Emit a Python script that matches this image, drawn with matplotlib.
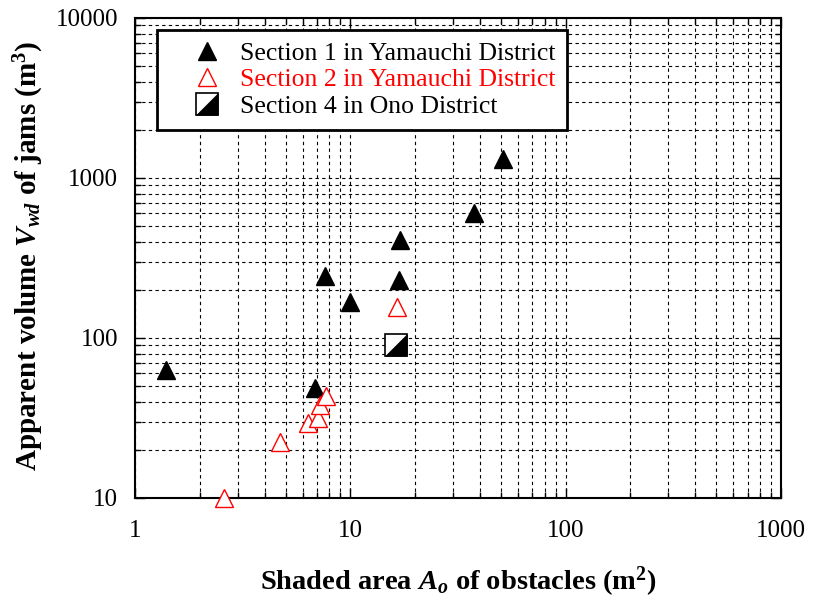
import matplotlib
matplotlib.use("Agg")
import matplotlib.pyplot as plt
from matplotlib.ticker import LogLocator, FixedLocator, FixedFormatter, NullFormatter
from matplotlib.legend_handler import HandlerTuple

plt.rcParams['font.family'] = ['Liberation Serif', 'DejaVu Serif']
plt.rcParams['mathtext.fontset'] = 'custom'
plt.rcParams['mathtext.rm'] = 'Liberation Serif:bold'
plt.rcParams['mathtext.bf'] = 'Liberation Serif:bold'
plt.rcParams['mathtext.it'] = 'Liberation Serif:bold:italic'

# Data
s1_x = [1.39, 6.86, 7.63, 9.97, 17.0, 16.8, 37.5, 51.2]
s1_y = [63, 48.7, 244, 168, 410, 230, 603, 1316]
s2_x = [2.59, 4.71, 6.36, 7.08, 7.2, 7.7, 16.5]
s2_y = [10, 22.4, 29.4, 31.6, 38.1, 43.4, 156]
s4_x = [16.3]
s4_y = [90.4]
labels = ["Section 1 in Yamauchi District",
          "Section 2 in Yamauchi District",
          "Section 4 in Ono District"]
xticks = [1, 10, 100, 1000]
yticks = [10, 100, 1000, 10000]

fig = plt.figure(figsize=(8.16, 6.0), dpi=100)
ax = fig.add_axes([135/816, 1 - 498/600, 646/816, 480/600])
ax.set_xscale('log')
ax.set_yscale('log')
ax.set_xlim(1, 1000)
ax.set_ylim(10, 10000)

ax.grid(True, which='both', color='black', linestyle=(0, (3, 3)), linewidth=0.8)
ax.set_axisbelow(True)

ms = 13
h1, = ax.plot(s1_x, s1_y, linestyle='none', marker='^', markersize=ms,
              markerfacecolor='black', markeredgecolor='black', zorder=3, clip_on=False)
h2, = ax.plot(s2_x, s2_y, linestyle='none', marker='^', markersize=ms,
              markerfacecolor='white', markeredgecolor='red', markeredgewidth=1.0,
              zorder=3, clip_on=False)
h3a, = ax.plot(s4_x, s4_y, linestyle='none', marker='s', markersize=15.5,
               markerfacecolor='white', markeredgecolor='black', markeredgewidth=1.2,
               zorder=3, clip_on=False)
tri = [(-1, -1), (1, -1), (1, 1), (-1, -1)]
h3b, = ax.plot(s4_x, s4_y, linestyle='none', marker=tri, markersize=15.5,
               markerfacecolor='black', markeredgecolor='black', markeredgewidth=0.5,
               zorder=4, clip_on=False)

ax.xaxis.set_major_locator(FixedLocator(xticks))
ax.xaxis.set_major_formatter(FixedFormatter([str(v) for v in xticks]))
ax.yaxis.set_major_locator(FixedLocator(yticks))
ax.yaxis.set_major_formatter(FixedFormatter([str(v) for v in yticks]))
ax.xaxis.set_minor_locator(LogLocator(base=10, subs=range(2, 10)))
ax.yaxis.set_minor_locator(LogLocator(base=10, subs=range(2, 10)))
ax.xaxis.set_minor_formatter(NullFormatter())
ax.yaxis.set_minor_formatter(NullFormatter())

ax.tick_params(which='both', direction='in', top=True, right=True, labelsize=18, width=1.0)
ax.tick_params(which='major', length=7)
ax.tick_params(axis='y', which='major', pad=12)
ax.tick_params(axis='x', which='major', pad=16)
ax.tick_params(which='minor', length=4)
for sp in ax.spines.values():
    sp.set_linewidth(1.5)

ax.set_xlabel(r'Shaded area $A_o$ of obstacles (m$^2$)', fontsize=20.5, fontweight='bold', labelpad=16)
ax.set_ylabel(r'Apparent volume $V_{wd}$ of jams (m$^3$)', fontsize=21, fontweight='bold', labelpad=4)
ax.yaxis.set_label_coords(-0.137, 0.505)
ax.yaxis.label.set_horizontalalignment('center')

leg = ax.legend([h1, h2, (h3a, h3b)], labels, loc='upper left',
                bbox_to_anchor=(0.034, 0.975), borderaxespad=0,
                handler_map={tuple: HandlerTuple(ndivide=1)},
                fontsize=18.5, fancybox=False, framealpha=1, edgecolor='black',
                markerscale=1.0, handletextpad=-0.22, borderpad=0.45, labelspacing=0.15,
                handlelength=3.0)
leg.get_frame().set_linewidth(2)
leg.get_texts()[1].set_color('red')

fig.savefig('out.png', dpi=100)
